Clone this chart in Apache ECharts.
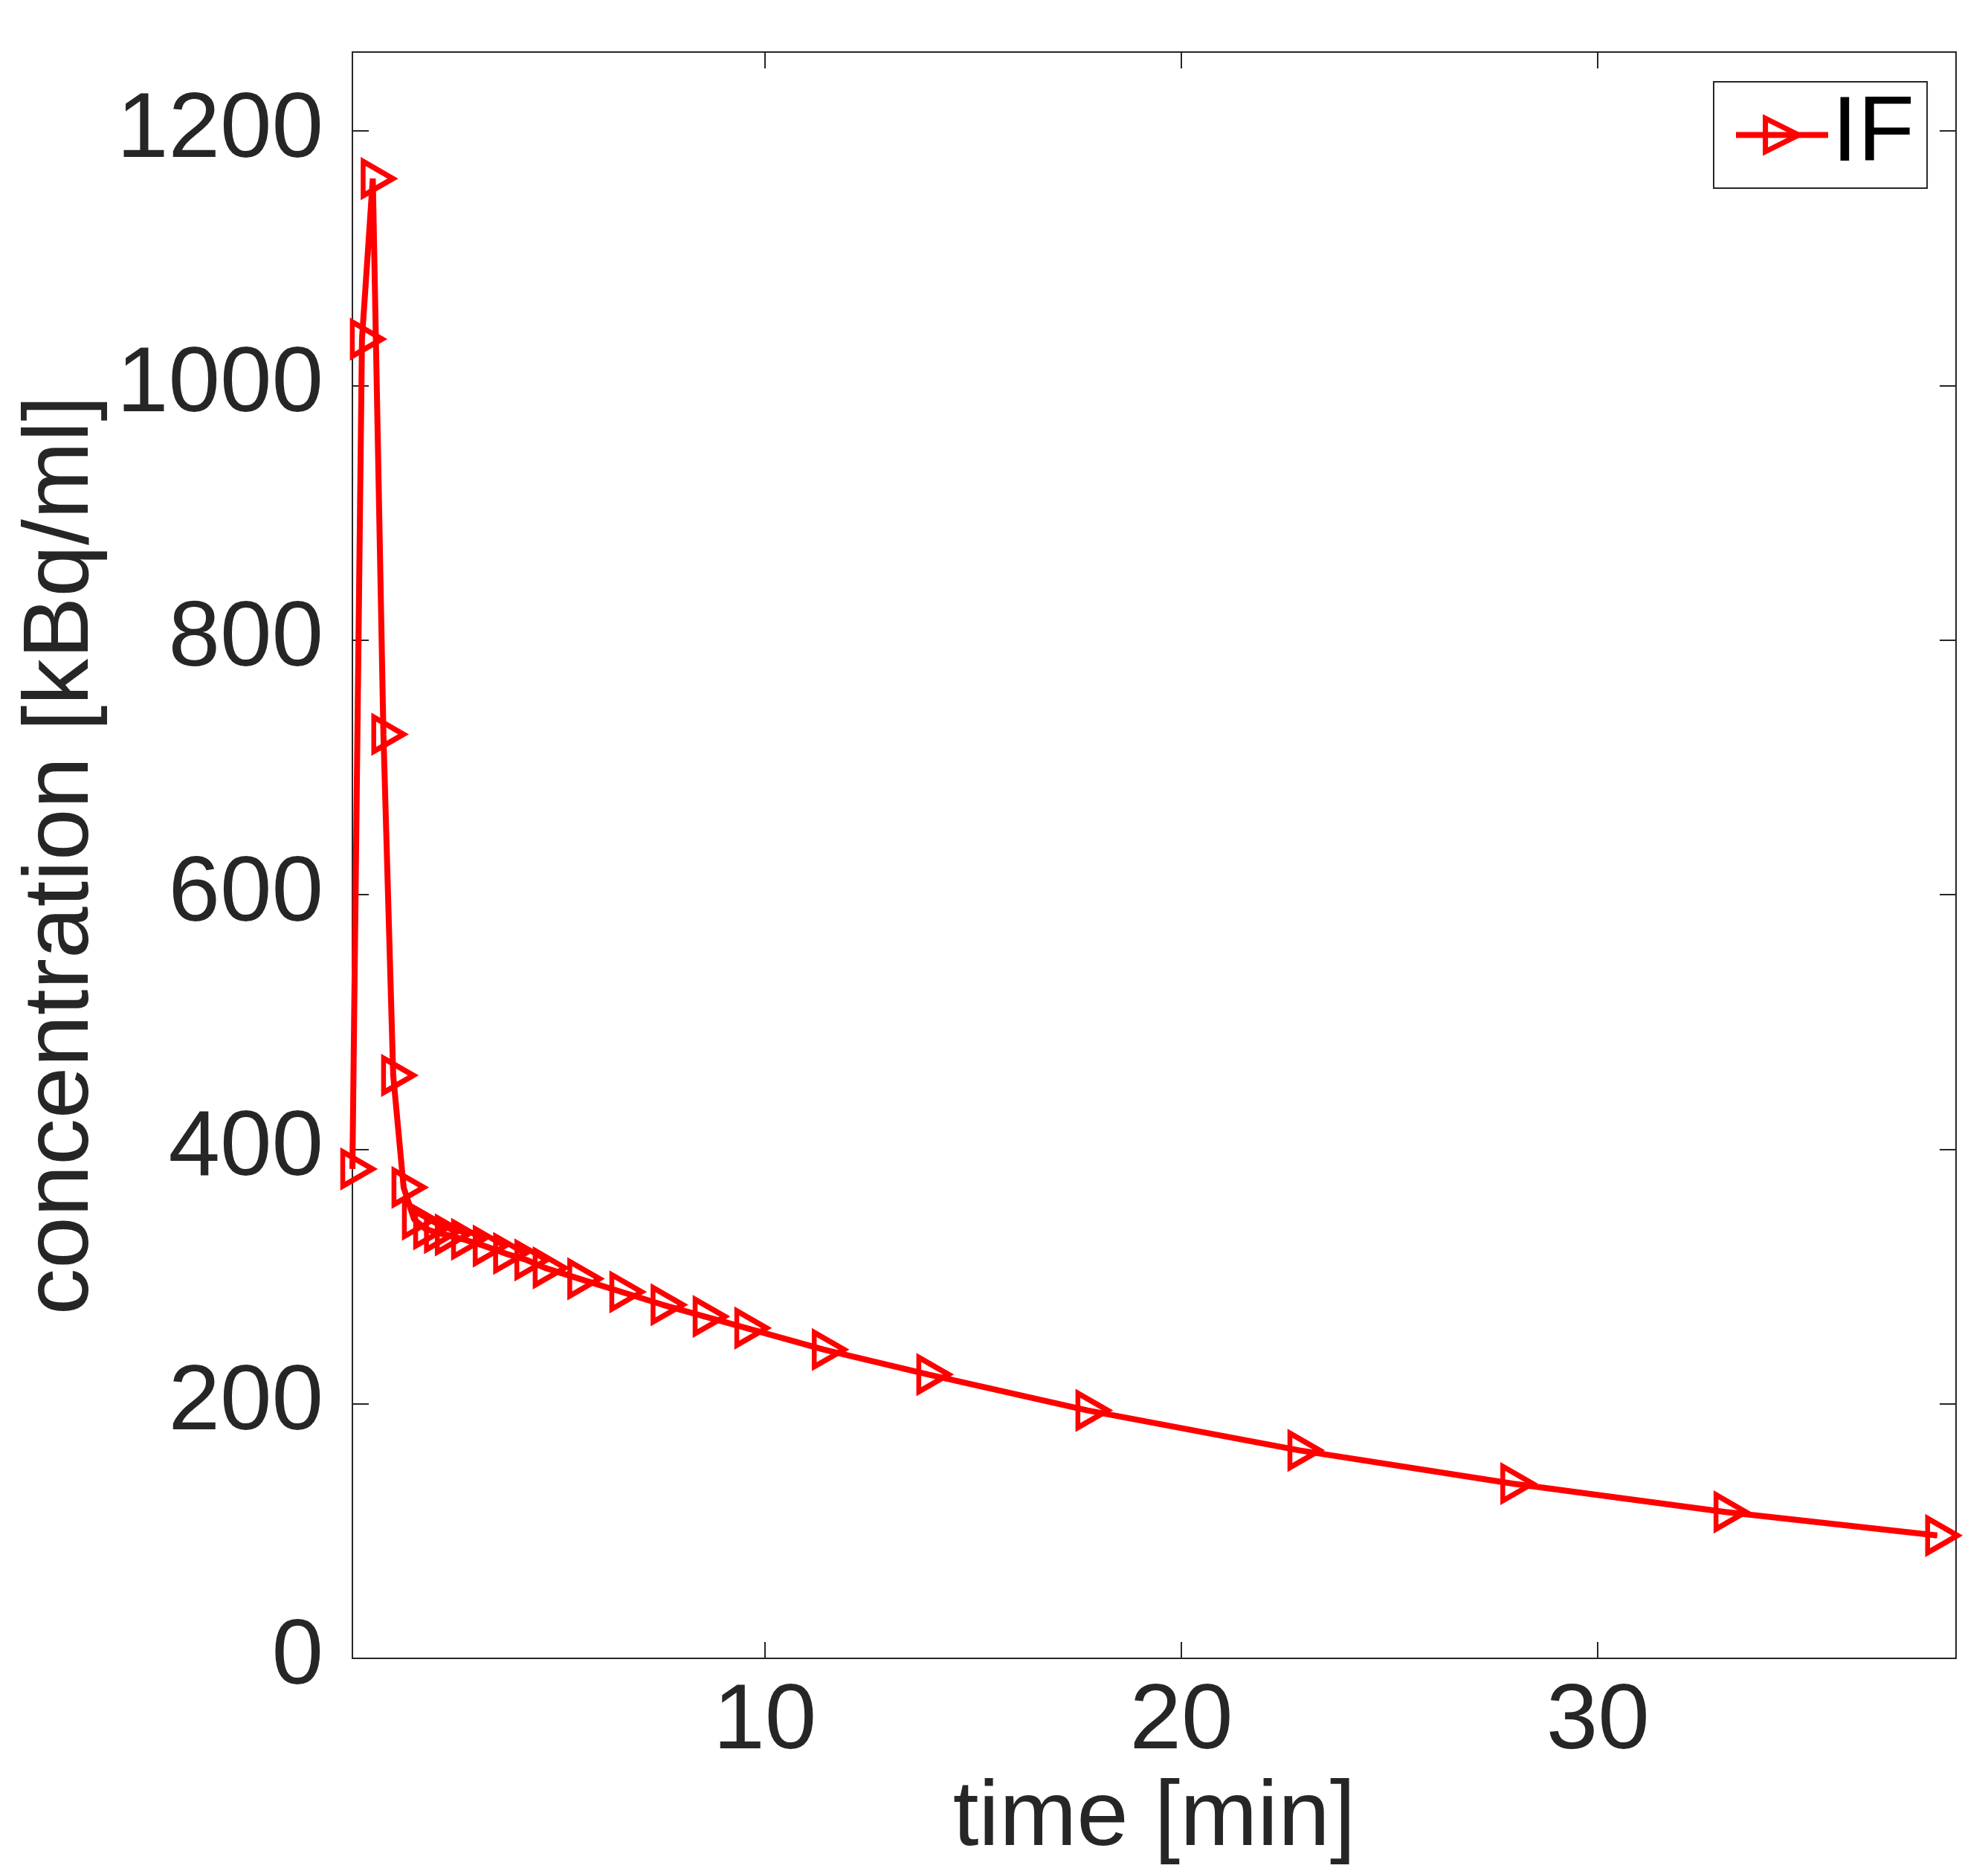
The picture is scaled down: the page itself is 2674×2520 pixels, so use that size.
<!DOCTYPE html>
<html>
<head>
<meta charset="utf-8">
<script src="https://cdn.jsdelivr.net/npm/echarts@6/dist/echarts.min.js"></script>
<style>
  html, body { margin: 0; padding: 0; background: #fff; }
  #chart { width: 2674px; height: 2520px; }
</style>
</head>
<body>
<div id="chart"></div>
<script>
// IF time-activity curve (time in min, concentration in kBq/ml)
const times = [0.1, 0.33, 0.59, 0.845, 1.08, 1.33, 1.58, 1.85, 2.11, 2.37, 2.76, 3.28, 3.77, 4.28, 4.72,
  5.55, 6.56, 7.55, 8.56, 9.56, 11.42, 13.93, 17.75, 22.84, 27.95, 33.07, 38.15];
const ifValues = [384.5, 1036.5, 1162.6, 726, 458, 370, 345, 337.5, 334.6, 332.7, 329.2, 323.9, 318.1, 313, 306.8,
  298.2, 287.9, 277.8, 268.6, 259.5, 242.6, 223, 194.8, 163.4, 137.3, 115, 96.5];
const xTicks = [10, 20, 30];
const yTicks = [0, 200, 400, 600, 800, 1000, 1200];
const seriesName = 'IF';

const fontFamily = '"Liberation Sans", Arial, Helvetica, sans-serif';
const axisColor = '#262626';

function frameAxis(ticks, withLabels) {
  return {
    axisLine: { show: true, onZero: false, lineStyle: { color: axisColor, width: 2 } },
    axisTick: { show: true, inside: true, length: 22, customValues: ticks, lineStyle: { color: axisColor, width: 2 } },
    axisLabel: withLabels
      ? { customValues: ticks, color: axisColor, fontSize: 125, fontFamily: fontFamily, formatter: (v) => String(v) }
      : { show: false },
    splitLine: { show: false },
  };
}

function buildOption() {
  const xBase = frameAxis(xTicks, true);
  const yBase = frameAxis(yTicks, true);
  return {
    animation: false,
    backgroundColor: '#fff',
    grid: { left: 474, right: 43, top: 70, bottom: 290, outerBoundsMode: 'none', containLabel: false },
    legend: {
      data: [seriesName],
      left: 2305,
      top: 110,
      padding: [9, 17, 9, 26],
      itemWidth: 124,
      itemHeight: 56,
      itemGap: 0,
      backgroundColor: '#fff',
      borderColor: axisColor,
      borderWidth: 2,
      borderRadius: 0,
      textStyle: { color: '#000', fontSize: 125, fontFamily: fontFamily },
      itemStyle: { color: 'rgba(0,0,0,0)', borderColor: '#ff0000', borderWidth: 7 },
      lineStyle: { color: '#ff0000', width: 8 },
    },
    xAxis: [
      Object.assign({
        type: 'value', position: 'bottom', min: 0.1, max: 38.6,
        name: 'time [min]', nameLocation: 'middle', nameGap: 153,
        nameTextStyle: { color: axisColor, fontSize: 125, fontFamily: fontFamily },
      }, xBase, { axisLabel: Object.assign({}, xBase.axisLabel, { margin: 24 }) }),
      Object.assign({ type: 'value', position: 'top', min: 0.1, max: 38.6 }, frameAxis(xTicks, false)),
    ],
    yAxis: [
      Object.assign({
        type: 'value', position: 'left', min: 0, max: 1262,
        name: 'concentration [kBq/ml]', nameLocation: 'middle', nameGap: 283,
        nameTextStyle: { color: axisColor, fontSize: 125, fontFamily: fontFamily },
      }, yBase, { axisLabel: Object.assign({}, yBase.axisLabel, { margin: 39 }) }),
      Object.assign({ type: 'value', position: 'right', min: 0, max: 1262 }, frameAxis(yTicks, false)),
    ],
    series: [
      {
        name: seriesName,
        type: 'line',
        xAxisIndex: 0,
        yAxisIndex: 0,
        data: times.map((t, i) => [t, ifValues[i]]),
        clip: false,
        showAllSymbol: true,
        symbol: 'triangle',
        symbolSize: [46, 40],
        symbolRotate: -90,
        symbolOffset: [7, 0],
        lineStyle: { color: '#ff0000', width: 8 },
        itemStyle: { color: 'rgba(0,0,0,0)', borderColor: '#ff0000', borderWidth: 7 },
        emphasis: { disabled: true },
      },
    ],
  };
}

const chart = echarts.init(document.getElementById('chart'), undefined, { renderer: 'canvas' });
chart.setOption(buildOption());
</script>
</body>
</html>
